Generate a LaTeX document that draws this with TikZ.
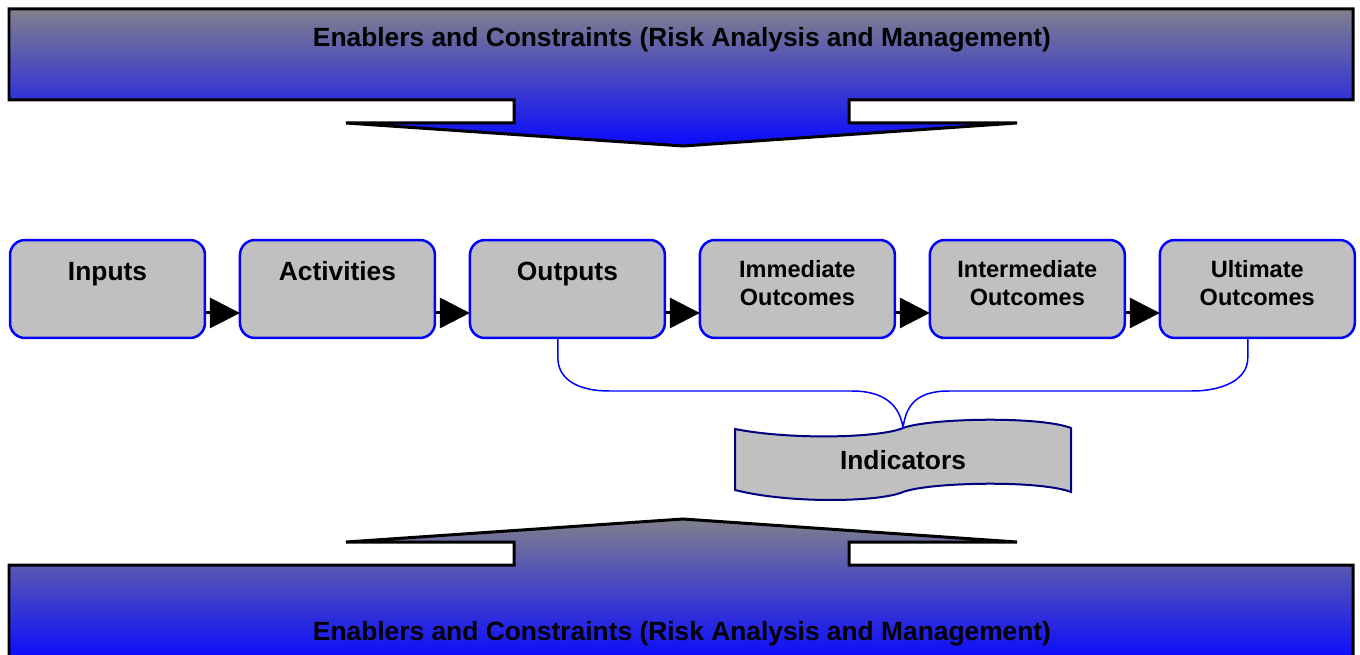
\documentclass[tikz,border=0pt]{standalone}
\usepackage{fontspec}
\setmainfont{Liberation Sans}
\usetikzlibrary{positioning, arrows.meta}
\definecolor{bannergrey}{RGB}{128,128,140}
\definecolor{bannerblue}{RGB}{10,10,255}
\definecolor{boxgrey}{RGB}{192,192,192}
\definecolor{indborder}{RGB}{0,0,128}
\tikzstyle{arrow} = [line width=0.06cm, -{Triangle[length=0.6cm, width=0.6cm]}]
\tikzstyle{banner} = [line width=0.06cm, draw=black, top color=bannergrey, bottom color=bannerblue]
\tikzstyle{bannertext} = [font=\fontsize{15}{18}\selectfont\bfseries]
\tikzstyle{stage} = [rectangle, rounded corners=0.3cm, minimum width=3.9cm, text width=3.9cm, minimum height=1.96cm, inner sep=0pt, outer sep=0pt, align=center, text height=0.8cm, text depth=1.16cm, draw=blue, line width=0.05cm, fill=boxgrey, font=\fontsize{15}{18}\selectfont\bfseries]
\tikzstyle{stagetwo} = [stage, text height=0.74cm, text depth=1.22cm, font=\fontsize{13.4}{16.4}\selectfont\bfseries]
\tikzstyle{bracket} = [blue, line width=0.03cm]

\begin{document}
\begin{tikzpicture}[x=0.02cm, y=-0.02cm]
		\clip (0,0) rectangle (1360,655);
		% top band
		\draw[banner] (9,9) -- (1353,9) -- (1353,100) -- (849,100) -- (849,123) -- (1017,123) -- (683,146)
			-- (346,123) -- (514,123) -- (514,100) -- (9,100) -- cycle;
		\node (topband) [bannertext] at (682,40) {Enablers and Constraints (Risk Analysis and Management)};
		% bottom band
		\draw[banner] (9,660) -- (9,565) -- (514,565) -- (514,542) -- (346,542) -- (683,519) -- (1017,542)
			-- (849,542) -- (849,565) -- (1353,565) -- (1353,660) -- cycle;
		\node (bottomband) [bannertext] at (682,634) {Enablers and Constraints (Risk Analysis and Management)};
		% chain
		\node (inputs) [stage] at (107.5,289) {Inputs};
		\node (activities) [stage, right=0.7cm of inputs] {Activities};
		\node (outputs) [stage, right=0.7cm of activities] {Outputs};
		\node (immediate) [stagetwo, right=0.7cm of outputs] {Immediate\\Outcomes};
		\node (intermediate) [stagetwo, right=0.7cm of immediate] {Intermediate\\Outcomes};
		\node (ultimate) [stagetwo, right=0.7cm of intermediate] {Ultimate\\Outcomes};
		\draw[arrow] ([yshift=-0.48cm]inputs.east) -- ([yshift=-0.48cm]activities.west);
		\draw[arrow] ([yshift=-0.48cm]activities.east) -- ([yshift=-0.48cm]outputs.west);
		\draw[arrow] ([yshift=-0.48cm]outputs.east) -- ([yshift=-0.48cm]immediate.west);
		\draw[arrow] ([yshift=-0.48cm]immediate.east) -- ([yshift=-0.48cm]intermediate.west);
		\draw[arrow] ([yshift=-0.48cm]intermediate.east) -- ([yshift=-0.48cm]ultimate.west);
		% indicators
		\draw[indborder, line width=0.04cm, fill=boxgrey] (735,429) .. controls (790,440) and (880,438) .. (903,428)
			.. controls (930,418) and (1040,416) .. (1071,428) -- (1071,492)
			.. controls (1040,480) and (930,482) .. (903,492) .. controls (880,502) and (790,504) .. (735,490) -- cycle;
		\node (indicators) [minimum width=6.72cm, minimum height=1.28cm, inner sep=0pt, font=\fontsize{15}{18}\selectfont\bfseries] at (903,460) {Indicators};
		\draw[bracket] ([xshift=-0.19cm]outputs.south) -- ++(0,20) .. controls +(0,22) and +(-30,0) .. (609,391)
			-- (852,391) .. controls +(35,0) and +(-3,-20) .. (indicators.north);
		\draw[bracket] ([xshift=-0.19cm]ultimate.south) -- ++(0,20) .. controls +(0,22) and +(30,0) .. (1192,391)
			-- (949,391) .. controls +(-35,0) and +(3,-20) .. (indicators.north);
	\end{tikzpicture}
\end{document}
